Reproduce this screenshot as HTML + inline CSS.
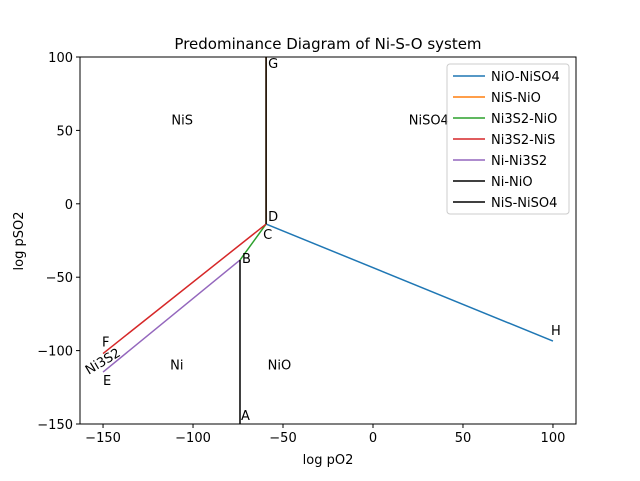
<!DOCTYPE html>
<html><head><meta charset="utf-8"><style>
body{margin:0;background:#fff;}
svg{font-family:"DejaVu Sans","Liberation Sans",sans-serif;}
</style></head><body>
<svg id="chart" width="640" height="476" xmlns="http://www.w3.org/2000/svg">
<rect width="640" height="476" fill="#fff"/>
<g id="marks"></g>
<g id="axes"></g>
</svg>
<script>
const xTicks=[-150,-100,-50,0,50,100];
const yTicks=[-150,-100,-50,0,50,100];
const seriesNames=["NiO-NiSO4","NiS-NiO","Ni3S2-NiO","Ni3S2-NiS","Ni-Ni3S2","Ni-NiO","NiS-NiSO4"];
const seriesColors=["#1f77b4","#ff7f0e","#2ca02c","#d62728","#9467bd","#000000","#000000"];
const seriesX=[[-59.4,100],[-59.4,-59.4],[-73.9,-59.4],[-150,-59.4],[-150,-73.9],[-73.9,-73.9],[-59.4,-59.4]];
const seriesY=[[-13.8,-93.5],[-13.8,100],[-38.3,-13.8],[-102,-13.8],[-114.6,-38.3],[-150,-38.3],[-13.8,100]];
const pointLabels=["G","D","C","B","H","A","F","E"];
const pointX=[-59.4,-59.4,-59.4,-73.9,100,-73.9,-150,-150];
const pointY=[100,-13.8,-13.8,-38.3,-93.5,-150,-102,-114.6];
const pointDx=[2,2,-3,2,-2,1,-1,0];
const pointDy=[11,-3,15,3,-6,-4,-7,13];
const regionLabels=["NiS","NiSO4","Ni","NiO"];
const regionX=[-106,31,-109,-52];
const regionY=[57.5,57.5,-109.5,-109.5];
const L=80,R=576,T=57,B=424,xmin=-162.8,xmax=112.8,ymin=-150,ymax=100;
const sx=v=>L+(v-xmin)/(xmax-xmin)*(R-L);
const sy=v=>B-(v-ymin)/(ymax-ymin)*(B-T);
const NS="http://www.w3.org/2000/svg";
const marks=document.getElementById('marks'),axes=document.getElementById('axes');
function mk(tag,attrs,parent,text){const e=document.createElementNS(NS,tag);for(const k in attrs)e.setAttribute(k,attrs[k]);if(text!==undefined)e.textContent=text;parent.appendChild(e);return e;}
seriesNames.forEach((n,i)=>{
 const pts=seriesX[i].map((x,j)=>sx(x)+','+sy(seriesY[i][j])).join(' ');
 const p=mk('polyline',{points:pts,fill:'none',stroke:seriesColors[i],'stroke-width':1.5},marks);
 
 
});
pointLabels.forEach((t,i)=>{
 const e=mk('text',{x:sx(pointX[i])+pointDx[i],y:sy(pointY[i])+pointDy[i],'font-size':13},marks,t);
 
 
});
regionLabels.forEach((t,i)=>{
 const e=mk('text',{x:sx(regionX[i]),y:sy(regionY[i])+5,'font-size':13,'text-anchor':'middle'},marks,t);
 
 
});
const rot=mk('text',{x:0,y:0,'font-size':13,'text-anchor':'middle',transform:'translate(105,365) rotate(-31)'},marks,'Ni3S2');


const frame=mk('rect',{x:L,y:T,width:R-L,height:B-T,fill:'none',stroke:'#000','stroke-width':1},axes);


xTicks.forEach(v=>{
 mk('line',{x1:sx(v),x2:sx(v),y1:B,y2:B+4,stroke:'#000'},axes);
 const t=mk('text',{x:sx(v),y:B+18,'font-size':13,'text-anchor':'middle'},axes,v<0?'\u2212'+(-v):v);
 
 
});
yTicks.forEach(v=>{
 mk('line',{x1:L-4,x2:L,y1:sy(v),y2:sy(v),stroke:'#000'},axes);
 const t=mk('text',{x:L-7,y:sy(v)+5,'font-size':13,'text-anchor':'end'},axes,v<0?'\u2212'+(-v):v);
 
 
});
const title=mk('text',{x:328,y:49,'font-size':15,'text-anchor':'middle'},axes,'Predominance Diagram of Ni-S-O system');


const xl=mk('text',{x:328,y:464,'font-size':13,'text-anchor':'middle'},axes,'log pO2');


const yl=mk('text',{x:0,y:0,'font-size':13,'text-anchor':'middle',transform:'translate(23,241) rotate(-90)'},axes,'log pSO2');


const lg=mk('g',{},axes);


mk('rect',{x:447,y:64,width:122,height:150,rx:3,fill:'#fff','fill-opacity':0.8,stroke:'#ccc'},lg);
seriesNames.forEach((n,i)=>{
 const y=76+i*21;
 mk('line',{x1:453,x2:485,y1:y,y2:y,stroke:seriesColors[i],'stroke-width':1.5},lg);
 const t=mk('text',{x:491,y:y+5,'font-size':13},lg,n);
 
 
});
</script>
</body></html>
